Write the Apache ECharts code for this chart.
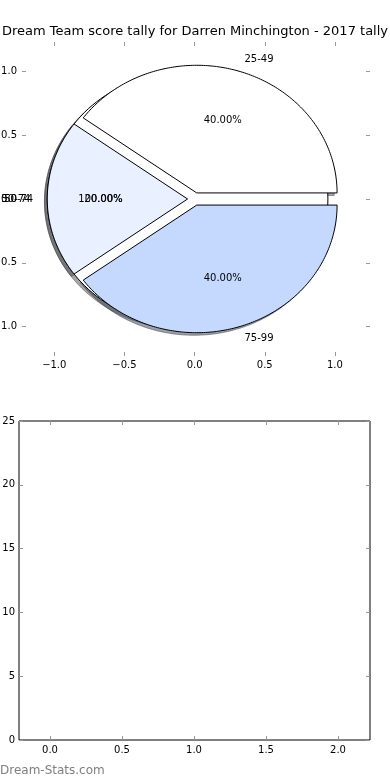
<!DOCTYPE html>
<html>
<head>
<meta charset="utf-8">
<script src="https://cdn.jsdelivr.net/npm/echarts@6/dist/echarts.min.js"></script>
<style>html,body{margin:0;padding:0;background:#fff}#c{width:390px;height:780px}</style>
</head>
<body>
<div id="c"></div>
<script>
// ---- data ----
const titleText = 'Dream Team score tally for Darren Minchington - 2017 tally';
const categories = ['25-49', '50-74', '75-99'];
const percents = [40, 20, 40];
const sliceColors = ['#ffffff', '#e9f0ff', '#c5d9ff'];
// an earlier full pie left underneath in the same axes
const priorCategories = ['50-74'];
const priorPercents = [100];
const priorColors = ['#ffffff'];
const pieTicks = [-1.0, -0.5, 0.0, 0.5, 1.0];
const barXTicks = [0.0, 0.5, 1.0, 1.5, 2.0];
const barYTicks = [0, 5, 10, 15, 20, 25];
const footerText = 'Dream-Stats.com';

// ---- build slice list (matplotlib style: ccw from 0deg, explode 0.05) ----
const EXPLODE = 0.05;
function buildSlices(cats, pcts, cols, layer) {
  const total = pcts.reduce((a, b) => a + b, 0);
  let acc = 0;
  return cats.map((c, i) => {
    const a0 = acc / total * 2 * Math.PI;
    acc += pcts[i];
    const a1 = acc / total * 2 * Math.PI;
    return { label: c, pct: pcts[i], a0, a1, color: cols[i % cols.length], layer };
  });
}
const slices = buildSlices(priorCategories, priorPercents, priorColors, 0)
  .concat(buildSlices(categories, percents, sliceColors, 1));

function wedgePts(api, s, dx, dy) {
  const mid = (s.a0 + s.a1) / 2;
  const cx = EXPLODE * Math.cos(mid) + dx, cy = EXPLODE * Math.sin(mid) + dy;
  const full = (s.a1 - s.a0) >= 2 * Math.PI - 1e-9;
  const pts = [];
  if (!full) pts.push(api.coord([cx, cy]));
  const N = 160;
  for (let i = 0; i <= N; i++) {
    const a = s.a0 + (s.a1 - s.a0) * i / N;
    pts.push(api.coord([cx + Math.cos(a), cy + Math.sin(a)]));
  }
  return pts;
}
function hexToRgb(h) {
  const v = parseInt(h.slice(1), 16);
  return [(v >> 16) & 255, (v >> 8) & 255, v & 255];
}
const font = '10px "DejaVu Sans"';
const fmt = v => (Math.abs(v) < 1e-9 ? '0.0' : v.toFixed(1).replace('-', '\u2212'));

const chart = echarts.init(document.getElementById('c'), null, { renderer: 'canvas' });
const sliceData = slices.map((s, i) => [i]);

const tickStyle = { show: true, inside: true, length: 4, lineStyle: { color: '#999', width: 1 } };
const labelStyle = { color: '#000', fontFamily: 'DejaVu Sans', fontSize: 10 };
const noLine = { show: false, onZero: false };

chart.setOption({
  animation: false,
  title: {
    text: titleText, left: 'center', top: 20,
    textStyle: { fontFamily: 'DejaVu Sans', fontSize: 13, fontWeight: 'normal', color: '#000' }
  },
  graphic: [{
    type: 'text', left: 0, top: 765,
    style: { text: footerText, fill: '#7f7f7f', font: '12px "DejaVu Sans"' }
  }],
  grid: [
    { left: 22, right: 20, top: 42, height: 314, outerBoundsMode: 'none', containLabel: false },
    { left: 19, right: 20, top: 421, bottom: 40, outerBoundsMode: 'none', containLabel: false,
      show: true, borderColor: '#000', borderWidth: 1, backgroundColor: 'transparent' }
  ],
  xAxis: [
    { gridIndex: 0, type: 'value', min: -1.23, max: 1.25, position: 'bottom',
      axisLine: noLine, splitLine: { show: false },
      axisTick: Object.assign({ customValues: pieTicks }, tickStyle),
      axisLabel: Object.assign({ customValues: pieTicks, margin: 4, formatter: fmt }, labelStyle) },
    { gridIndex: 0, type: 'value', min: -1.23, max: 1.25, position: 'top',
      axisLine: noLine, splitLine: { show: false },
      axisTick: Object.assign({ customValues: pieTicks }, tickStyle),
      axisLabel: { show: false } },
    { gridIndex: 1, type: 'value', min: -0.215, max: 2.222, position: 'bottom',
      axisLine: noLine, splitLine: { show: false },
      axisTick: Object.assign({ customValues: barXTicks }, tickStyle),
      axisLabel: Object.assign({ customValues: barXTicks, margin: 5, formatter: v => v.toFixed(1) }, labelStyle) },
    { gridIndex: 1, type: 'value', min: -0.215, max: 2.222, position: 'top',
      axisLine: noLine, splitLine: { show: false },
      axisTick: Object.assign({ customValues: barXTicks }, tickStyle),
      axisLabel: { show: false } }
  ],
  yAxis: [
    { gridIndex: 0, type: 'value', min: -1.23, max: 1.23, position: 'left',
      axisLine: noLine, splitLine: { show: false },
      axisTick: Object.assign({ customValues: pieTicks }, tickStyle),
      axisLabel: Object.assign({ customValues: pieTicks, margin: 5, formatter: fmt }, labelStyle) },
    { gridIndex: 0, type: 'value', min: -1.23, max: 1.23, position: 'right',
      axisLine: noLine, splitLine: { show: false },
      axisTick: Object.assign({ customValues: pieTicks }, tickStyle),
      axisLabel: { show: false } },
    { gridIndex: 1, type: 'value', min: 0, max: 25, position: 'left',
      axisLine: noLine, splitLine: { show: false },
      axisTick: Object.assign({ customValues: barYTicks }, tickStyle),
      axisLabel: Object.assign({ customValues: barYTicks, margin: 4 }, labelStyle) },
    { gridIndex: 1, type: 'value', min: 0, max: 25, position: 'right',
      axisLine: noLine, splitLine: { show: false },
      axisTick: Object.assign({ customValues: barYTicks }, tickStyle),
      axisLabel: { show: false } }
  ],
  series: [
    { // shadows
      type: 'custom', xAxisIndex: 0, yAxisIndex: 0, z: 1, silent: true, clip: false,
      data: sliceData,
      renderItem: (params, api) => {
        const s = slices[params.dataIndex];
        const c = hexToRgb(s.color).map(v => Math.round(v * 0.3));
        return { type: 'polygon', shape: { points: wedgePts(api, s, -0.02, -0.02) },
          style: { fill: `rgba(${c[0]},${c[1]},${c[2]},0.5)`, stroke: `rgba(${c[0]},${c[1]},${c[2]},0.5)`, lineWidth: 1 } };
      }
    },
    { // wedges
      type: 'custom', xAxisIndex: 0, yAxisIndex: 0, z: 2, silent: true, clip: false,
      data: sliceData,
      renderItem: (params, api) => {
        const s = slices[params.dataIndex];
        return { type: 'polygon', shape: { points: wedgePts(api, s, 0, 0) },
          style: { fill: s.color, stroke: '#000', lineWidth: 1 } };
      }
    },
    { // labels
      type: 'custom', xAxisIndex: 0, yAxisIndex: 0, z: 3, silent: true, clip: false,
      data: sliceData,
      renderItem: (params, api) => {
        const s = slices[params.dataIndex];
        const mid = (s.a0 + s.a1) / 2;
        const cx = EXPLODE * Math.cos(mid), cy = EXPLODE * Math.sin(mid);
        const shift = s.layer === 0 ? -0.02 : 0;
        const lp = api.coord([cx + 1.1 * Math.cos(mid) + shift, cy + 1.1 * Math.sin(mid)]);
        const pp = api.coord([cx + 0.6 * Math.cos(mid) + shift, cy + 0.6 * Math.sin(mid)]);
        return { type: 'group', children: [
          { type: 'text', x: lp[0], y: lp[1], style: { text: s.label, font, fill: '#000',
              align: Math.cos(mid) > 0 ? 'left' : 'right', verticalAlign: 'middle' } },
          { type: 'text', x: pp[0], y: pp[1], style: { text: s.pct.toFixed(2) + '%', font, fill: '#000',
              align: 'center', verticalAlign: 'middle' } }
        ] };
      }
    },
    { type: 'line', xAxisIndex: 2, yAxisIndex: 2, data: [], silent: true }
  ]
});
</script>
</body>
</html>
